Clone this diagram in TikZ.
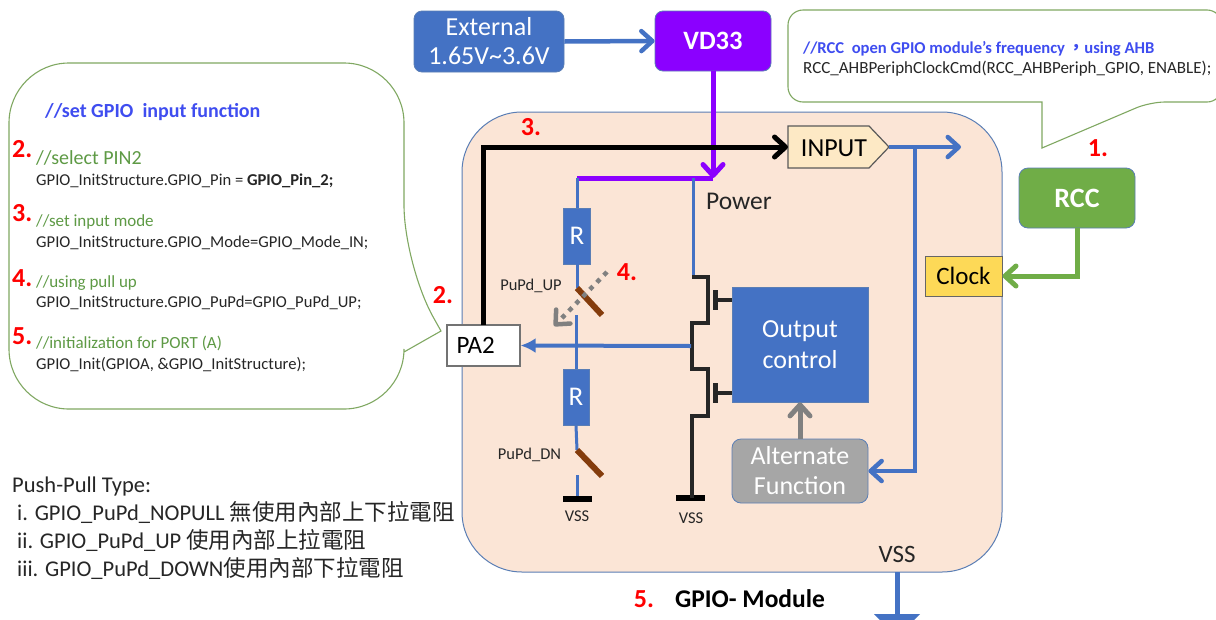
\documentclass[tikz,border=0pt]{standalone}
\usepackage{fontspec}
\setmainfont{Carlito}
\newfontfamily\cjkfont{Noto Sans CJK TC}
\usetikzlibrary{arrows.meta}
\definecolor{modfill}{HTML}{FBE5D6}
\definecolor{modline}{HTML}{5A7EB5}
\definecolor{blockblue}{HTML}{4472C4}
\definecolor{vdpurple}{HTML}{8B00FF}
\definecolor{rccgreen}{HTML}{70AD47}
\definecolor{noteline}{HTML}{80A862}
\definecolor{notegreen}{HTML}{5E9A45}
\definecolor{noteblue}{HTML}{3F4DF0}
\definecolor{codegray}{HTML}{262626}
\definecolor{switchbrown}{HTML}{843C0C}
\newcommand{\fsz}[1]{\fontsize{#1}{#1}\selectfont}
\tikzset{
  block/.style={draw=modline, fill=blockblue, text=white, inner sep=0pt, align=center, line width=0.8pt},
  wire/.style={blockblue, line width=3pt},
  fatwire/.style={blockblue, line width=4.5pt},
  fet/.style={black!85, line width=3.5pt},
  railbar/.style={black, line width=6pt},
  swbar/.style={switchbrown, line width=6pt},
  note/.style={draw=noteline, fill=white, line width=1.1pt},
  rednum/.style={text=red, font=\fsz{26}\bfseries, inner sep=0pt},
  greentxt/.style={text=notegreen, anchor=base west, inner sep=0pt},
  codetxt/.style={text=codegray, font=\fsz{16.6}, anchor=base west, inner sep=0pt},
  pushtxt/.style={text=codegray, font=\fsz{22.5}, anchor=base west, inner sep=0pt},
  smalltxt/.style={text=codegray, font=\fsz{16.5}, inner sep=0pt},
}
\begin{document}
\begin{tikzpicture}[x=1pt, y=-1pt, >={Straight Barb[length=11pt,width=20pt,round]}]
  \useasboundingbox (0,0) rectangle (1216,619);
  \fill[white] (0,0) rectangle (1216,619);

  % module body
  \draw[modline, fill=modfill, line width=1pt, rounded corners=60pt] (462,112) rectangle (1002,572);

  % speech bubbles
  \draw[note] (404,352) [rounded corners=60pt] -- (404,409) -- (9,409) -- (9,63) -- (404,63) -- (404,265) [sharp corners] -- (441,331) -- cycle;
  \draw[note] (1042,102) [rounded corners=15pt] -- (788,102) -- (788,10) -- (1222,10) -- (1222,102) -- (1150,102) [sharp corners] -- (1042,148) -- cycle;

  % top blocks
  \node[block, rounded corners=8pt, minimum width=150pt, minimum height=61pt, font=\fsz{26}] (ext) at (489,41.5) {External\\[3pt]1.65V\textasciitilde3.6V};
  \node[block, rounded corners=8pt, fill=vdpurple, minimum width=116pt, minimum height=60pt, font=\fsz{26.5}\bfseries] (vd33) at (713,41) {VD33};
  \node[block, rounded corners=9pt, fill=rccgreen, minimum width=116pt, minimum height=60pt, font=\fsz{28}\bfseries] (rcc) at (1077,198) {RCC};
  \node[draw=black!60, fill=yellow!60!orange!65, text=black, inner sep=0pt, line width=1pt, minimum width=77pt, minimum height=40pt, font=\fsz{25}] (clock) at (963.5,276) {Clock};
  \node[draw=black!55, fill=white, text=black, inner sep=0pt, text width=54pt, align=left, line width=1.2pt, minimum height=41pt, minimum width=73pt, font=\fsz{25}] (pa2) at (483.5,345.5) {PA2};
  \node[block, minimum width=136pt, minimum height=115pt, font=\fsz{26}] (ctrl) at (800,344.5) {Output\\[5pt]control};
  \node[block, fill=black!35, rounded corners=9pt, minimum width=136pt, minimum height=64pt, font=\fsz{26}] (alt) at (800,471) {Alternate\\[4pt]Function};
  \node[block, minimum width=27pt, minimum height=56pt, font=\fsz{27}] (rup) at (577,236) {R};
  \node[block, minimum width=26pt, minimum height=56pt, font=\fsz{27}] (rdn) at (576,397) {R};

  % input buffer
  \draw[black!65, fill=yellow!20!orange!20!white, line width=1.2pt] (788,126) -- (869,126) -- (889,147) -- (869,168) -- (788,168) -- cycle;
  \node[font=\fsz{26}, text=black, inner sep=0pt] (inlabel) at (834,148) {INPUT};
  \coordinate (inw) at (788,147);
  \coordinate (ine) at (889,147);
  \coordinate (inend) at (961,147);
  \coordinate (inbr) at (915,147);
  \coordinate (inlow) at (915,471);

  % power rail
  \coordinate (pwr) at (713,178);
  \coordinate (pwrl) at (577,178);
  \coordinate (pwrt) at (693,178);
  \draw[->, vdpurple, line width=5pt] (vd33) -- (pwr);
  \draw[vdpurple, line width=5pt] (pwrl) -- (pwr);
  \draw[->, fatwire] (ext.east) -- (vd33.west);

  % pull up and pull down legs
  \coordinate (upa) at (577,288);
  \coordinate (upb) at (602,315);
  \coordinate (upc) at (576,315);
  \coordinate (dna) at (577,450);
  \coordinate (dnb) at (602,476);
  \coordinate (dnc) at (577,475);
  \coordinate (vssa) at (577,499);
  \coordinate (vssb) at (692,498);
  \draw[wire] (pwrl) -- (rup.north);
  \draw[wire] (rup.south) -- (upa);
  \draw[wire] (upc) -- (rdn.north);
  \draw[wire] (rdn.south) -- (dna);
  \draw[wire] (dnc) -- (vssa);
  \draw[swbar] (upa) -- (upb);
  \draw[swbar] (dna) -- (dnb);
  \draw[railbar] (563,499) -- (592,499);
  \draw[railbar] (676,498) -- (705,498);

  % fets
  \draw[wire] (pwrt) -- (693,277);
  \draw[fet] (692,277) -- (708,277) -- (708,323) -- (692,323) -- (692,369) -- (708,369) -- (708,416) -- (692,416) -- (vssb);
  \draw[black!85, line width=5pt] (715,290) -- (715,310);
  \draw[black!85, line width=5pt] (715,383) -- (715,403);
  \draw[black!85, line width=4pt] (715,300) -- (ctrl.west |- 715,300);
  \draw[black!85, line width=4pt] (715,393) -- (ctrl.west |- 715,393);

  % connectors
  \coordinate (midout) at (691,346);
  \draw[-{Latex[length=15pt,width=15pt]}, blockblue, line width=4pt] (midout) -- (pa2.east);
  \draw[->, line width=5pt] (483,325) -- (483,147) -- (inw);
  \draw[->, fatwire] (ine) -- (inend);
  \draw[->, fatwire] (inbr) -- (inlow) -- (alt.east);
  \draw[->, black!50, line width=5pt] (alt.north) -- (ctrl.south);
  \draw[->, rccgreen, line width=5pt] (rcc.south) |- (clock.east);
  \coordinate (pua) at (607,272);
  \coordinate (pub) at (554,326);
  \draw[->, black!50, line width=4.5pt, dash pattern=on 4.5pt off 5.5pt] (pua) -- (pub);

  % vss pin at the bottom
  \coordinate (vsspin) at (897,572);
  \coordinate (vsspinb) at (897,614);
  \draw[blockblue, line width=5pt] (vsspin) -- (vsspinb);
  \fill[blockblue] (874,614) -- (920,614) -- (914,620) -- (880,620) -- cycle;

  % labels in the module
  \node[font=\fsz{25.5}, text=codegray, inner sep=0pt] (power) at (739,201) {Power};
  \node[smalltxt] (upname) at (531,286) {PuPd\_UP};
  \node[smalltxt] (dnname) at (529.5,455) {PuPd\_DN};
  \node[smalltxt] (vssl) at (577,516) {VSS};
  \node[smalltxt] (vssm) at (691,518) {VSS};
  \node[font=\fsz{25}, text=codegray, inner sep=0pt] (vssr) at (897,554) {VSS};
  \node[rednum] (n3) at (531,127) {3.};
  \node[rednum] (n4) at (627,272) {4.};
  \node[rednum] (n2) at (443,295) {2.};
  \node[rednum] (n1) at (1098,148) {1.};
  \node[rednum] (n5) at (644,599) {5.};
  \node[font=\fsz{25.5}\bfseries, text=black, inner sep=0pt] (modname) at (750,599) {GPIO- Module};

  % left note
  \node[text=noteblue, font=\fsz{20}\bfseries, anchor=base west, inner sep=0pt] (lefttitle) at (45,117) {//set GPIO\ \ input function};
  \foreach \num/\yy in {2/157, 3/221, 4/286, 5/344} {
    \node[rednum, anchor=base west] (left\num) at (12,\yy) {\num.};
  }
  \node[greentxt, font=\fsz{20}] (c2) at (36,164) {//select PIN2};
  \node[greentxt, font=\fsz{17}] (c3) at (36,226) {//set input mode};
  \node[greentxt, font=\fsz{17}] (c4) at (36,287) {//using pull up};
  \node[greentxt, font=\fsz{17}] (c5) at (36,348) {//initialization for PORT (A)};
  \node[codetxt] (l2) at (36,185) {GPIO\_InitStructure.GPIO\_Pin = \textbf{GPIO\_Pin\_2;}};
  \node[codetxt] (l3) at (36,247) {GPIO\_InitStructure.GPIO\_Mode=GPIO\_Mode\_IN;};
  \node[codetxt] (l4) at (36,307) {GPIO\_InitStructure.GPIO\_PuPd=GPIO\_PuPd\_UP;};
  \node[codetxt] (l5) at (36,369) {GPIO\_Init(GPIOA, \&GPIO\_InitStructure);};

  % right note
  \node[text=noteblue, font=\fsz{16.6}\bfseries, anchor=base west, inner sep=0pt] (righttitle) at (803,53) {//RCC\ \ open GPIO module’s frequency\,{\cjkfont ，}using AHB};
  \node[codetxt, font=\fsz{17}] (rightcode) at (803,73) {RCC\_AHBPeriphClockCmd(RCC\_AHBPeriph\_GPIO, ENABLE);};

  % push-pull list
  \node[pushtxt] (p0) at (12,492) {Push-Pull Type:};
  \node[pushtxt] (p1) at (17,520) {i. GPIO\_PuPd\_NOPULL {\cjkfont 無使用內部上下拉電阻}};
  \node[pushtxt] (p2) at (17,548) {ii. GPIO\_PuPd\_UP {\cjkfont 使用內部上拉電阻}};
  \node[pushtxt] (p3) at (17,576) {iii. GPIO\_PuPd\_DOWN{\cjkfont 使用內部下拉電阻}};
\end{tikzpicture}
\end{document}
